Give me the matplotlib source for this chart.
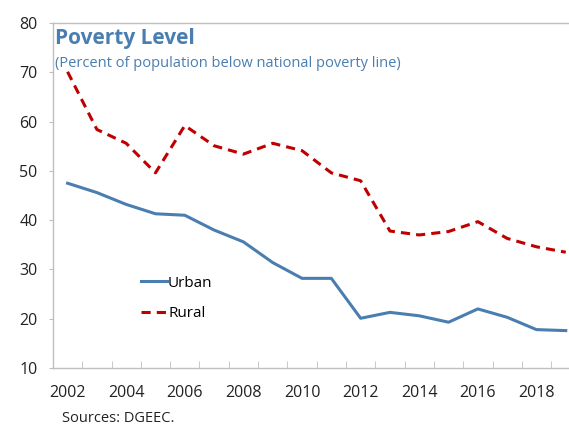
import matplotlib.pyplot as plt

plt.rcParams["font.family"] = ["Open Sans", "DejaVu Sans"]

years = list(range(2002, 2020))
urban = [47.5, 45.6, 43.2, 41.3, 41.0, 38.0, 35.6, 31.4, 28.2, 28.2,
         20.1, 21.3, 20.6, 19.3, 22.0, 20.3, 17.8, 17.6]
rural = [70.1, 58.4, 55.6, 49.6, 59.2, 55.1, 53.4, 55.6, 54.1, 49.6,
         48.0, 37.8, 37.0, 37.7, 39.7, 36.3, 34.6, 33.5]
tick_years = list(range(2002, 2020, 2))

blue = "#4A7EB0"
red = "#C00000"
grey = "#BFBFBF"

fig = plt.figure(figsize=(5.69, 4.26), dpi=100)
ax = fig.add_axes([0.093, 0.136, 0.907, 0.810])

ax.plot(years, urban, color=blue, lw=2.2, label="Urban")
ax.plot(years, rural, color=red, lw=2.2, ls=(0, (3, 2)), label="Rural")

ax.set_xlim(2001.5, 2019.11)
ax.set_ylim(10, 80)
ax.set_yticks(range(10, 81, 10))
ax.set_xticks(tick_years)
# year boundaries get small inward ticks, labels sit in the middle of each year
ax.set_xticks([y + 0.5 for y in range(2001, 2019)], minor=True)
ax.tick_params(axis="x", which="major", length=0, pad=12, labelsize=11.5, colors="#222222")
ax.tick_params(axis="x", which="minor", direction="in", length=5, color=grey)
ax.tick_params(axis="y", length=3, color=grey, labelsize=11.5, colors="#222222", pad=8)

for side in ["top", "left", "bottom"]:
    ax.spines[side].set_color(grey)
    ax.spines[side].set_linewidth(1.0)
ax.spines["right"].set_visible(False)

ax.text(0.004, 0.985, "Poverty Level", transform=ax.transAxes, fontsize=15,
        fontweight="bold", color=blue, va="top", ha="left")
ax.text(0.004, 0.905, "(Percent of population below national poverty line)",
        transform=ax.transAxes, fontsize=10.5, color=blue, va="top", ha="left")

ax.legend(loc="upper left", bbox_to_anchor=(0.155, 0.29), frameon=False,
          fontsize=11, handlelength=1.7, handletextpad=0.1, labelspacing=1.0,
          borderpad=0)

fig.text(0.109, 0.018, "Sources: DGEEC.", fontsize=10.5, color="#222222",
         ha="left", va="center")

fig.savefig("out.png", dpi=100)
